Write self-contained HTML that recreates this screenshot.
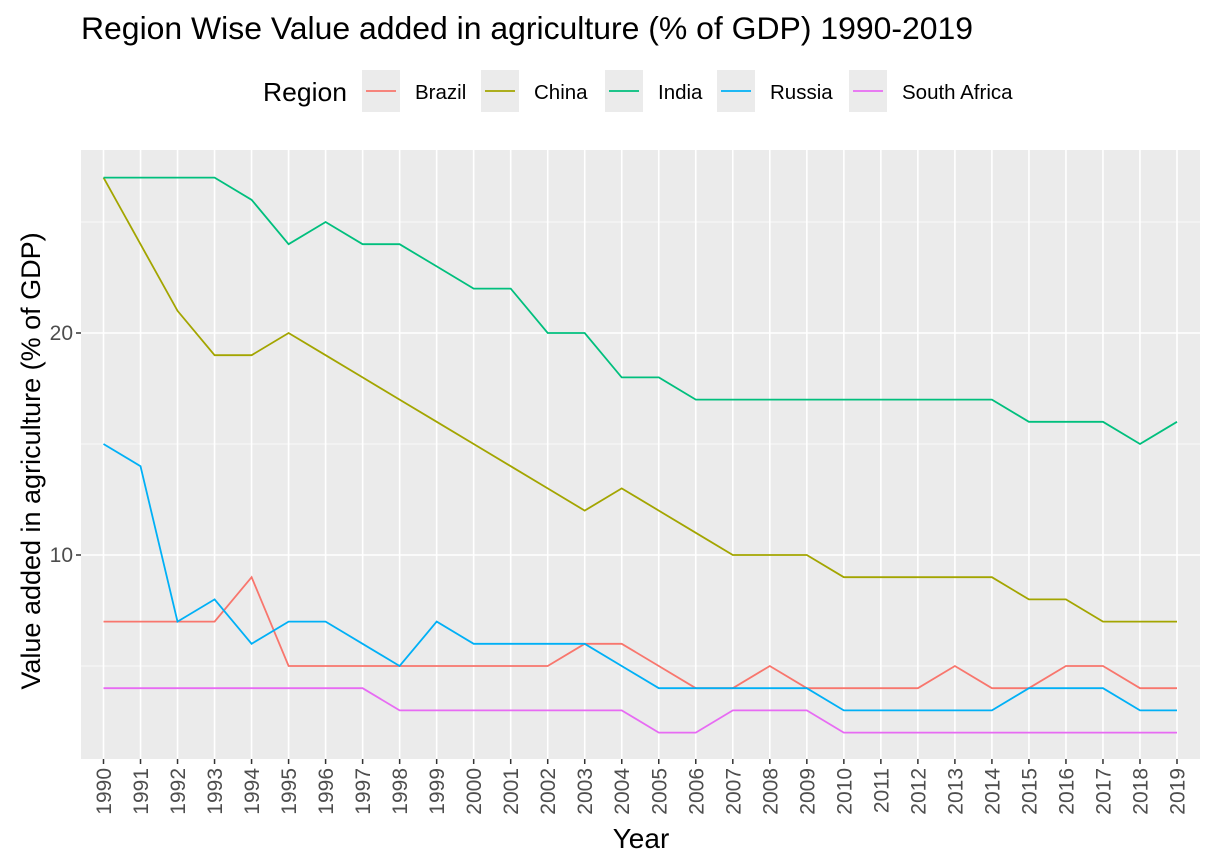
<!DOCTYPE html>
<html><head><meta charset="utf-8"><style>
html,body{margin:0;padding:0;background:#fff;}
svg{display:block;font-family:"Liberation Sans",Arial,sans-serif;}
</style></head><body>
<svg id="s" width="1214" height="866" xmlns="http://www.w3.org/2000/svg">
<rect width="1214" height="866" fill="#fff"/>
<text x="81" y="39" font-size="31.5" fill="#000" textLength="892" lengthAdjust="spacingAndGlyphs">Region Wise Value added in agriculture (% of GDP) 1990-2019</text>
<text x="263" y="101" font-size="26" fill="#000" textLength="84" lengthAdjust="spacingAndGlyphs">Region</text>
<g id="leg"></g>
<rect x="81" y="150" width="1119" height="609" fill="#ebebeb"/>
<g id="grid"></g>
<g id="lines"></g>
<g id="ticks"></g>
<text x="641" y="848" font-size="28" text-anchor="middle" fill="#000">Year</text>
<text transform="translate(40,461) rotate(-90)" font-size="27" text-anchor="middle" fill="#000">Value added in agriculture (% of GDP)</text>
</svg>
<script>
var NS="http://www.w3.org/2000/svg";
function el(p,t,a,txt){var e=document.createElementNS(NS,t);for(var k in a)e.setAttribute(k,a[k]);if(txt!=null)e.textContent=txt;document.getElementById(p).appendChild(e);return e;}
function X(i){return 103.5+i*(1177-103.5)/29;}
function Y(v){return 333-(v-20)*22.2;}
[5,15,25].forEach(function(v){el("grid","line",{x1:81,x2:1200,y1:Y(v),y2:Y(v),stroke:"#fff","stroke-width":0.8});});
[10,20].forEach(function(v){el("grid","line",{x1:81,x2:1200,y1:Y(v),y2:Y(v),stroke:"#fff","stroke-width":1.6});
 el("ticks","line",{x1:76,x2:81,y1:Y(v),y2:Y(v),stroke:"#333","stroke-width":1.5});
 el("ticks","text",{x:73,y:Y(v)+7,"font-size":21,"text-anchor":"end",fill:"#4d4d4d"},v);});
for(var i=0;i<30;i++){var x=X(i);
 el("grid","line",{x1:x,x2:x,y1:150,y2:759,stroke:"#fff","stroke-width":1.6});
 el("ticks","line",{x1:x,x2:x,y1:759,y2:764,stroke:"#333","stroke-width":1.5});
 el("ticks","text",{transform:"translate("+(x+7.5)+",768) rotate(-90)","font-size":21,"text-anchor":"end",fill:"#4d4d4d"},1990+i);}
var D={
"#f8766d":[7,7,7,7,9,5,5,5,5,5,5,5,5,6,6,5,4,4,5,4,4,4,4,5,4,4,5,5,4,4],
"#a3a500":[27,24,21,19,19,20,19,18,17,16,15,14,13,12,13,12,11,10,10,10,9,9,9,9,9,8,8,7,7,7],
"#00bf7d":[27,27,27,27,26,24,25,24,24,23,22,22,20,20,18,18,17,17,17,17,17,17,17,17,17,16,16,16,15,16],
"#00b0f6":[15,14,7,8,6,7,7,6,5,7,6,6,6,6,5,4,4,4,4,4,3,3,3,3,3,4,4,4,3,3],
"#e76bf3":[4,4,4,4,4,4,4,4,3,3,3,3,3,3,3,2,2,3,3,3,2,2,2,2,2,2,2,2,2,2]};
for(var c in D){var p=D[c].map(function(v,i){return X(i).toFixed(1)+","+Y(v).toFixed(1);}).join(" ");
 el("lines","polyline",{points:p,fill:"none",stroke:c,"stroke-width":1.8});}
var L=[["Brazil",362,"#f8766d"],["China",481,"#a3a500"],["India",605,"#00bf7d"],["Russia",717,"#00b0f6"],["South Africa",849,"#e76bf3"]];
L.forEach(function(l){el("leg","rect",{x:l[1],y:70,width:38,height:42,fill:"#ebebeb"});
 el("leg","line",{x1:l[1]+4,x2:l[1]+34,y1:91,y2:91,stroke:l[2],"stroke-width":1.8});
 el("leg","text",{x:l[1]+53,y:99,"font-size":20.5,fill:"#000"},l[0]);});
</script>
</body></html>
